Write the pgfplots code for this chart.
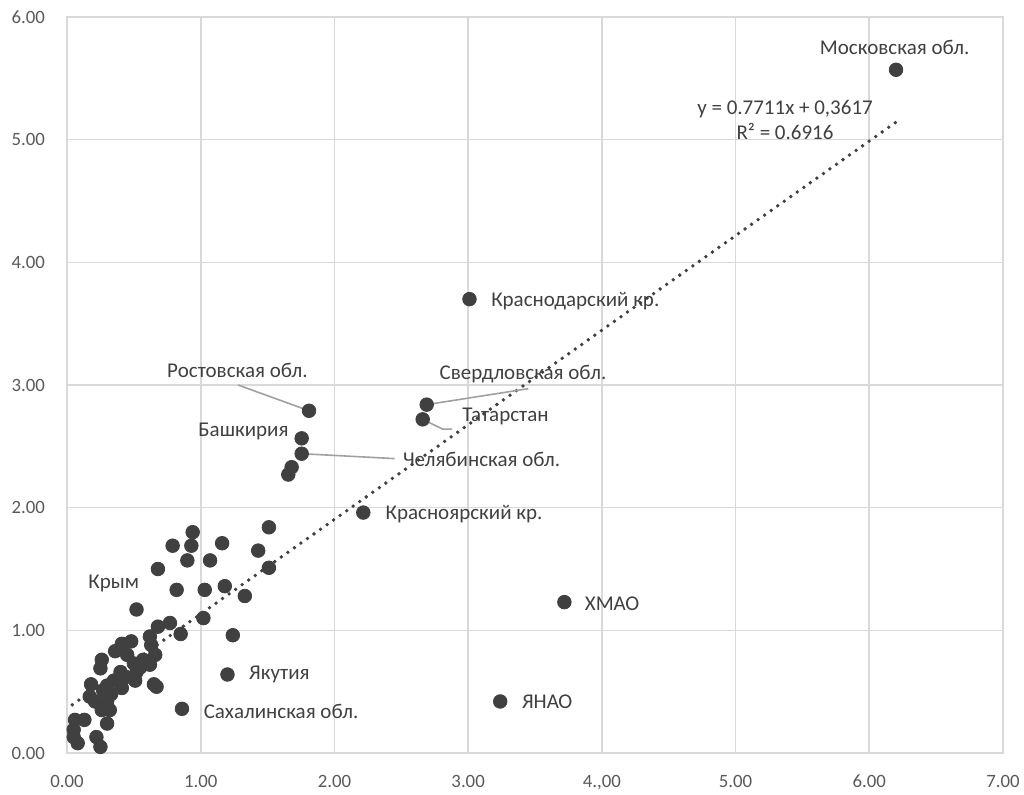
\documentclass[border=0pt]{standalone}
\usepackage{fontspec}
\setmainfont{Carlito}
\usepackage{pgfplots}
\pgfplotsset{compat=1.18}
\definecolor{gridc}{HTML}{D9D9D9}
\definecolor{markc}{HTML}{404040}
\definecolor{txtc}{HTML}{404040}
\definecolor{tickc}{HTML}{595959}
\definecolor{leadc}{HTML}{A0A0A0}
\begin{document}
\begin{tikzpicture}
\useasboundingbox (-33.5pt,-20.5pt) rectangle (478.5pt,376.5pt);
\begin{axis}[
  scale only axis,
  width=468pt, height=368pt,
  xmin=0, xmax=7, ymin=0, ymax=6,
  xtick={0,1,2,3,4,5,6,7},
  xticklabels={0.00,1.00,2.00,3.00,{4.,00},5.00,6.00,7.00},
  ytick={0,1,2,3,4,5,6},
  yticklabels={0.00,1.00,2.00,3.00,4.00,5.00,6.00},
  grid=major,
  grid style={gridc, line width=0.8pt},
  axis line style={gridc, line width=0.8pt},
  tick style={draw=none},
  ticklabel style={font=\fontsize{9.4}{11}\selectfont, text=tickc},
  /pgf/number format/assume math mode=true,
  xticklabel style={yshift=-7.5pt},
  yticklabel style={xshift=-7.5pt},
  clip=false,
]
% trend line
\addplot[markc, line width=1.9pt, line cap=round, dash pattern=on 0pt off 4pt] coordinates {(0.04,0.393) (6.20,5.143)};
% leader lines
\draw[leadc, line width=0.8pt] (axis cs:1.28,3.00) -- (axis cs:1.81,2.79);
\draw[leadc, line width=0.8pt] (axis cs:2.69,2.84) -- (axis cs:3.45,2.97);
\draw[leadc, line width=0.8pt] (axis cs:2.66,2.72) -- (axis cs:2.81,2.64) -- (axis cs:2.88,2.64);
\draw[leadc, line width=0.8pt] (axis cs:1.755,2.44) -- (axis cs:2.45,2.40);
% points
\addplot[only marks, mark=*, mark size=3.4pt, mark options={fill=markc, draw=markc}] table {
x y
6.20 5.57
3.01 3.70
2.69 2.84
2.66 2.72
1.81 2.79
1.755 2.565
1.755 2.44
1.68 2.33
1.655 2.27
2.216 1.96
3.72 1.23
3.24 0.42
1.20 0.64
0.86 0.36
0.52 1.17
0.94 1.80
0.79 1.69
0.93 1.69
1.16 1.71
1.51 1.84
0.68 1.50
0.90 1.57
1.07 1.57
1.43 1.65
1.51 1.51
0.82 1.33
1.03 1.33
1.18 1.36
1.33 1.28
1.02 1.10
1.24 0.96
0.85 0.97
0.68 1.03
0.77 1.06
0.62 0.95
0.63 0.88
0.48 0.91
0.41 0.89
0.36 0.83
0.66 0.80
0.57 0.76
0.50 0.73
0.26 0.76
0.25 0.69
0.62 0.72
0.52 0.66
0.40 0.66
0.35 0.59
0.51 0.59
0.65 0.56
0.67 0.54
0.18 0.56
0.27 0.51
0.41 0.53
0.17 0.46
0.21 0.42
0.30 0.42
0.26 0.35
0.32 0.35
0.30 0.24
0.06 0.27
0.13 0.27
0.05 0.19
0.05 0.13
0.08 0.08
0.22 0.13
0.25 0.05
0.45 0.80
0.55 0.70
0.60 0.75
0.30 0.55
0.33 0.48
0.44 0.62
};
% labels
\tikzset{lbl/.style={font=\fontsize{10.5}{12.5}\selectfont, text=txtc, inner sep=0pt}}
\node[lbl] at (axis cs:6.19,5.75) {Московская обл.};
\node[lbl, align=center] at (axis cs:5.37,5.16) {y = 0.7711x + 0,3617\\R² = 0.6916};
\node[lbl, anchor=west] at (axis cs:3.17,3.68) {Краснодарский кр.};
\node[lbl] at (axis cs:1.275,3.12) {Ростовская обл.};
\node[lbl] at (axis cs:3.41,3.09) {Свердловская обл.};
\node[lbl, anchor=west] at (axis cs:2.954,2.74) {Татарстан};
\node[lbl, anchor=west] at (axis cs:0.98,2.62) {Башкирия};
\node[lbl, anchor=west] at (axis cs:2.51,2.39) {Челябинская обл.};
\node[lbl, anchor=west] at (axis cs:2.38,1.95) {Красноярский кр.};
\node[lbl, anchor=west] at (axis cs:3.87,1.22) {ХМАО};
\node[lbl, anchor=west] at (axis cs:3.40,0.42) {ЯНАО};
\node[lbl, anchor=west] at (axis cs:1.36,0.64) {Якутия};
\node[lbl, anchor=west] at (axis cs:1.02,0.34) {Сахалинская обл.};
\node[lbl, anchor=west] at (axis cs:0.157,1.38) {Крым};
\end{axis}
\end{tikzpicture}
\end{document}
